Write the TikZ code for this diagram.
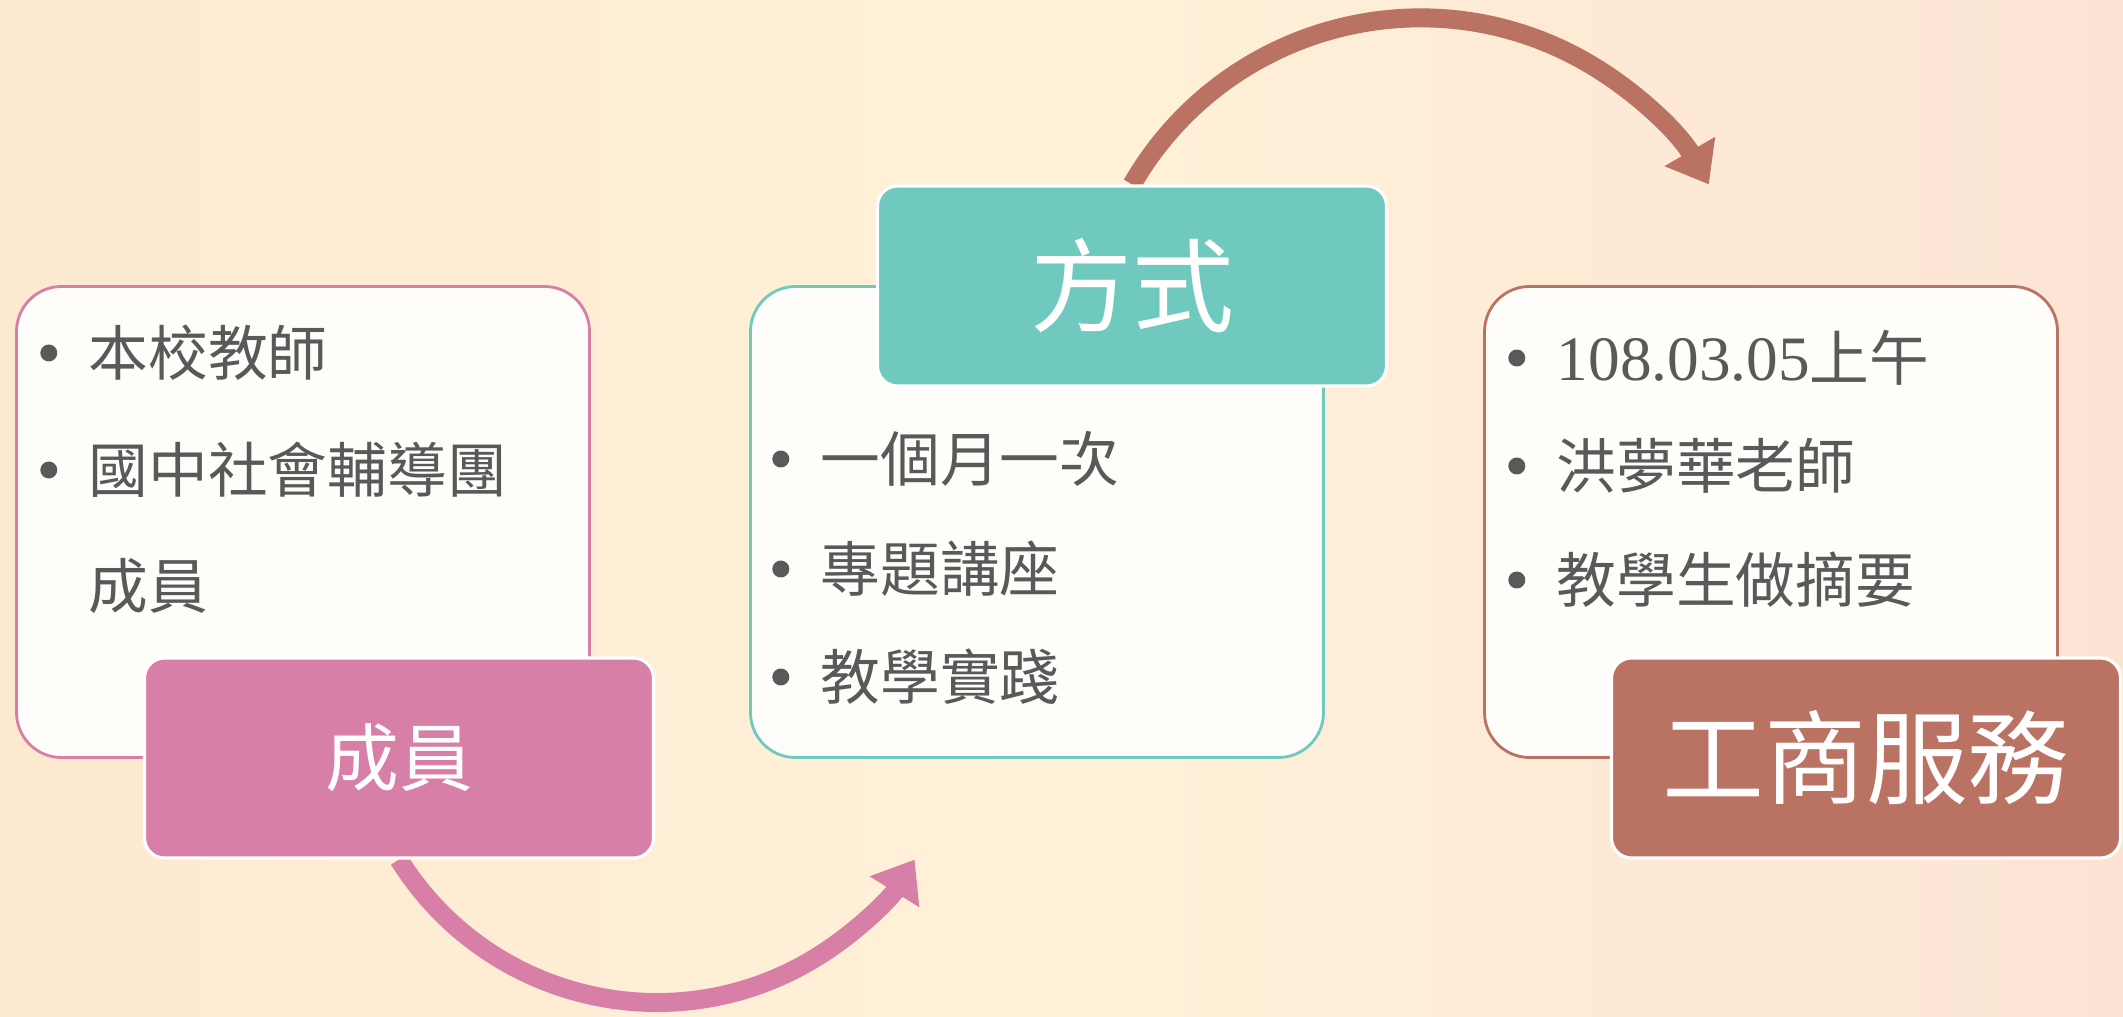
\documentclass[tikz,border=0pt]{standalone}
\usepackage{xcolor}
\usepackage{fontspec}
\usepackage{tikz}
\usetikzlibrary{arrows.meta}
\setmainfont{Liberation Serif}
\newfontfamily\cjk{Noto Sans CJK TC}
\definecolor{pinkbox}{HTML}{D77FA6}
\definecolor{tealbox}{HTML}{70C9BF}
\definecolor{brownbox}{HTML}{BA7263}
\definecolor{cardfill}{HTML}{FEFDFA}
\definecolor{textgray}{HTML}{595959}
\definecolor{bgleft}{HTML}{FDE9D0}
\definecolor{bgmid}{HTML}{FFF1D8}
\definecolor{bgright}{HTML}{FCE4D4}
\pgfdeclarelayer{back}
\pgfsetlayers{back,main}

\begin{document}
\begin{tikzpicture}
			[card/.style={draw, line width=0.8pt, fill=cardfill, rounded corners=0.45cm, minimum width=5.73cm, minimum height=4.71cm},
			titlebox/.style={draw=white, line width=0.9pt, rounded corners=0.2cm, minimum width=5.09cm, minimum height=2cm, text=white, inner sep=0},
			item/.style={anchor=west, inner sep=0, text=textgray, font=\cjk\fontsize{17}{20}\selectfont},
			dot/.style={label={[circle, fill=textgray, inner sep=0, minimum size=0.17cm, label distance=0.3cm]left:{}}},
			bigarrow/.style={line width=5.4pt, -{Triangle[length=0.38cm, width=0.56cm]}}]
			\useasboundingbox (0,0) rectangle (21.23,10.16);
			\node[card, draw=pinkbox] (memcard) at (3.03,4.94) {};
			\node[titlebox, fill=pinkbox, font=\cjk\fontsize{21}{24}\selectfont] (memtitle) at (3.99,2.58) {成員};
			\node[item, dot] (mem1) at (0.88,6.63) {本校教師};
			\node[item, dot] (mem2) at (0.88,5.46) {國中社會輔導團};
			\node[item] (mem3) at (0.88,4.30) {成員};
			\node[card, draw=tealbox] (waycard) at (10.37,4.94) {};
			\node[titlebox, fill=tealbox, font=\cjk\fontsize{29}{32}\selectfont] (waytitle) at (11.32,7.30) {方式};
			\node[item, dot] (way1) at (8.20,5.57) {一個月一次};
			\node[item, dot] (way2) at (8.20,4.47) {專題講座};
			\node[item, dot] (way3) at (8.20,3.39) {教學實踐};
			\node[card, draw=brownbox] (svccard) at (17.71,4.94) {};
			\node[titlebox, fill=brownbox, font=\cjk\fontsize{29}{32}\selectfont] (svctitle) at (18.66,2.58) {工商服務};
			\node[item, dot] (svc1) at (15.56,6.58) {{\rmfamily\fontsize{18}{20}\selectfont 108.03.05}上午};
			\node[item, dot] (svc2) at (15.56,5.50) {洪夢華老師};
			\node[item, dot] (svc3) at (15.56,4.36) {教學生做摘要};
			\begin{pgfonlayer}{back}
				\fill[bgmid] (0,0) rectangle (21.23,10.16);
				\shade[left color=bgleft, right color=bgright, middle color=bgmid] (0,0) rectangle (21.23,10.16);
				\draw[bigarrow, pinkbox] (memtitle.south) arc[start angle=212, end angle=328, radius=3.04];
				\draw[bigarrow, brownbox] (waytitle.north) arc[start angle=150, end angle=30, radius=3.33];
			\end{pgfonlayer}
		\end{tikzpicture}
\end{document}
